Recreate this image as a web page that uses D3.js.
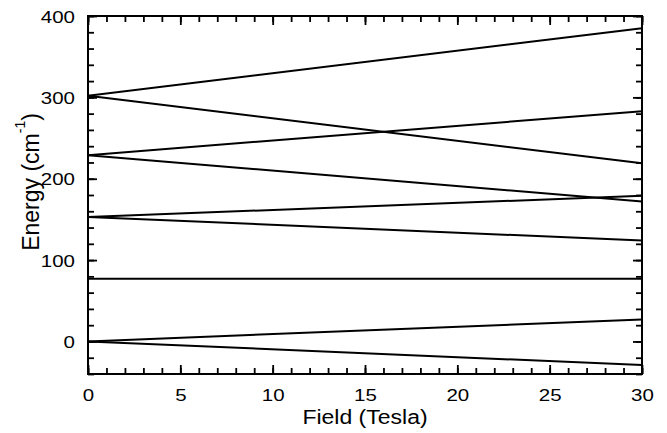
<!DOCTYPE html>
<html>
<head>
<meta charset="utf-8">
<script src="https://cdn.jsdelivr.net/npm/d3@7"></script>
<style>
  body { margin: 0; background: #fff; }
  text { font-family: "Liberation Sans", Arial, sans-serif; fill: #000; }
</style>
</head>
<body>
<svg id="chart"></svg>
<script>
// levels at zero field and at 30 T (cm-1)
var fields = [0, 30];
var startEnergy = [302, 302, 229, 229, 153, 153, 77, 0, 0];
var endEnergy = [385, 219, 283, 172, 179, 124, 77, 27, -29];

var xTicks = [0, 5, 10, 15, 20, 25, 30];
var yTicks = [0, 100, 200, 300, 400];

var W = 667, H = 433;
var margin = { top: 16, right: 25, bottom: 59, left: 88 };
var width = W - margin.left - margin.right;
var height = H - margin.top - margin.bottom;

var svg = d3.select("#chart").attr("width", W).attr("height", H);
var g = svg.append("g").attr("transform", "translate(" + margin.left + "," + margin.top + ")");

var x = d3.scaleLinear().domain([0, 30]).range([0, width]);
var y = d3.scaleLinear().domain([-40, 400]).range([height, 0]);

// minor ticks
var xMinor = d3.range(0, 31, 1);
var yMinor = d3.range(-40, 401, 20);

function tickAxis(axisFn, scale, vals, len) {
  return axisFn(scale).tickValues(vals).tickSize(-len).tickFormat("");
}

// bottom / top
g.append("g").attr("transform", "translate(0," + height + ")")
  .call(tickAxis(d3.axisBottom, x, xMinor, 6));
g.append("g").attr("transform", "translate(0," + height + ")")
  .call(d3.axisBottom(x).tickValues(xTicks).tickSize(-9))
  .selectAll("text")
    .attr("font-size", 20.5).attr("y", 0).attr("dy", 0)
    .attr("transform", "translate(0,27) scale(1,0.8)");
g.append("g").call(tickAxis(d3.axisTop, x, xMinor, 6));
g.append("g").call(tickAxis(d3.axisTop, x, xTicks, 9));

// left / right
g.append("g").call(tickAxis(d3.axisLeft, y, yMinor, 6));
g.append("g").call(d3.axisLeft(y).tickValues(yTicks).tickSize(-9))
  .selectAll("text")
    .attr("font-size", 20.5).attr("x", 0).attr("dy", 0)
    .attr("transform", "translate(-13,6) scale(1,0.8)");
g.append("g").attr("transform", "translate(" + width + ",0)")
  .call(tickAxis(d3.axisRight, y, yMinor, 6));
g.append("g").attr("transform", "translate(" + width + ",0)")
  .call(tickAxis(d3.axisRight, y, yTicks, 9));

g.selectAll(".domain").remove();
g.selectAll(".tick line").attr("stroke", "#000").attr("stroke-width", 1.8);

// frame
g.append("rect")
  .attr("width", width).attr("height", height)
  .attr("fill", "none").attr("stroke", "#000").attr("stroke-width", 2);

// energy levels
var line = d3.line().x(function(d) { return x(d[0]); }).y(function(d) { return y(d[1]); });
startEnergy.forEach(function(e0, i) {
  g.append("path")
    .datum([[fields[0], e0], [fields[1], endEnergy[i]]])
    .attr("d", line)
    .attr("fill", "none")
    .attr("stroke", "#000")
    .attr("stroke-width", 2);
});

// axis titles
svg.append("text")
  .attr("transform", "translate(" + (margin.left + width / 2) + ",424) scale(1,0.87)")
  .attr("text-anchor", "middle").attr("font-size", 23)
  .text("Field (Tesla)");

var yt = svg.append("text")
  .attr("transform", "translate(39,182) rotate(-90)")
  .attr("text-anchor", "middle").attr("font-size", 23);
yt.append("tspan").text("Energy (cm");
yt.append("tspan").attr("dy", -14).attr("font-size", 14).text("-1");
yt.append("tspan").attr("dy", 14).text(")");
</script>
</body>
</html>
